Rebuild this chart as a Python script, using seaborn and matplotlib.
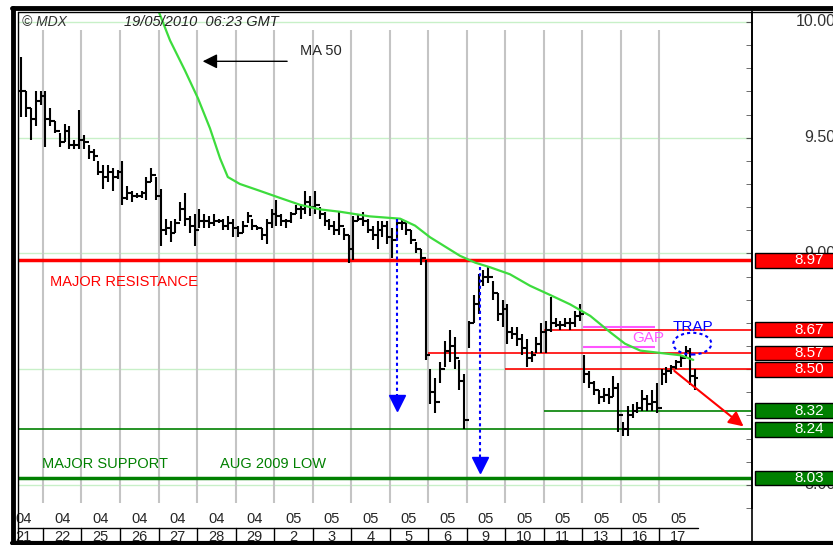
import numpy as np
import pandas as pd
import seaborn as sns
import matplotlib.pyplot as plt
from matplotlib.patches import Rectangle, Ellipse
from matplotlib.lines import Line2D
from matplotlib.transforms import blended_transform_factory

# hourly bars, day by day (21 Apr only partly on screen)
highs = [9.85, 9.70, 9.63, 9.70, 9.70,
         9.70, 9.63, 9.57, 9.52, 9.56, 9.55, 9.49, 9.62,
         9.51, 9.47, 9.45, 9.40, 9.38, 9.38, 9.37, 9.36,
         9.40, 9.29, 9.27, 9.26, 9.27, 9.33, 9.37, 9.33,
         9.28, 9.15, 9.14, 9.15, 9.22, 9.26, 9.16, 9.17,
         9.19, 9.17, 9.16, 9.17, 9.15, 9.15, 9.16, 9.15,
         9.12, 9.14, 9.18, 9.15, 9.12, 9.11, 9.15, 9.19,
         9.23, 9.17, 9.15, 9.18, 9.21, 9.21, 9.27, 9.25,
         9.27, 9.20, 9.18, 9.15, 9.14, 9.18, 9.11, 9.08,
         9.16, 9.17, 9.18, 9.15, 9.12, 9.14, 9.14, 9.14,
         9.11, 9.15, 9.15, 9.13, 9.10, 9.05, 9.02, 8.97,
         8.50, 8.46, 8.53, 8.62, 8.67, 8.64, 8.54, 8.48,
         8.71, 8.82, 8.91, 8.93, 8.94, 8.88, 8.83, 8.80,
         8.78, 8.68, 8.68, 8.65, 8.63, 8.58, 8.64, 8.70,
         8.71, 8.81, 8.72, 8.71, 8.72, 8.72, 8.75, 8.78,
         8.56, 8.49, 8.45, 8.41, 8.42, 8.42, 8.47, 8.44,
         8.27, 8.34, 8.35, 8.36, 8.41, 8.39, 8.41, 8.44,
         8.50, 8.51, 8.52, 8.54, 8.56, 8.60, 8.59, 8.50]
lows = [9.59, 9.59, 9.49, 9.55, 9.64,
        9.46, 9.55, 9.52, 9.46, 9.48, 9.45, 9.45, 9.45,
        9.45, 9.41, 9.40, 9.34, 9.28, 9.31, 9.27, 9.32,
        9.21, 9.23, 9.22, 9.24, 9.24, 9.23, 9.31, 9.23,
        9.03, 9.08, 9.05, 9.09, 9.14, 9.12, 9.09, 9.03,
        9.11, 9.11, 9.11, 9.12, 9.13, 9.10, 9.10, 9.07,
        9.07, 9.09, 9.13, 9.10, 9.10, 9.06, 9.04, 9.11,
        9.12, 9.12, 9.11, 9.13, 9.17, 9.15, 9.17, 9.16,
        9.17, 9.15, 9.12, 9.10, 9.08, 9.08, 9.06, 8.96,
        8.97, 9.14, 9.12, 9.09, 9.06, 9.02, 9.07, 9.04,
        8.98, 9.06, 9.10, 9.08, 9.04, 9.00, 8.95, 8.54,
        8.35, 8.31, 8.44, 8.51, 8.53, 8.50, 8.41, 8.24,
        8.59, 8.70, 8.74, 8.86, 8.87, 8.80, 8.71, 8.68,
        8.61, 8.63, 8.60, 8.56, 8.51, 8.53, 8.57, 8.57,
        8.57, 8.66, 8.68, 8.67, 8.68, 8.67, 8.68, 8.71,
        8.44, 8.42, 8.39, 8.35, 8.36, 8.35, 8.38, 8.23,
        8.21, 8.21, 8.29, 8.31, 8.32, 8.32, 8.32, 8.31,
        8.43, 8.44, 8.48, 8.50, 8.51, 8.55, 8.43, 8.41]
closes = [9.70, 9.63, 9.58, 9.66, 9.68,
          9.58, 9.57, 9.53, 9.48, 9.53, 9.47, 9.47, 9.49,
          9.48, 9.44, 9.42, 9.35, 9.33, 9.35, 9.33, 9.35,
          9.24, 9.26, 9.25, 9.25, 9.26, 9.31, 9.34, 9.25,
          9.10, 9.11, 9.09, 9.13, 9.19, 9.15, 9.12, 9.10,
          9.14, 9.14, 9.13, 9.14, 9.14, 9.12, 9.13, 9.11,
          9.09, 9.12, 9.16, 9.12, 9.11, 9.08, 9.13, 9.17,
          9.16, 9.14, 9.14, 9.17, 9.19, 9.19, 9.22, 9.20,
          9.21, 9.17, 9.14, 9.12, 9.10, 9.12, 9.08, 9.02,
          9.14, 9.15, 9.14, 9.10, 9.08, 9.10, 9.12, 9.07,
          9.06, 9.13, 9.13, 9.10, 9.06, 9.02, 8.98, 8.56,
          8.40, 8.36, 8.50, 8.58, 8.60, 8.55, 8.45, 8.28,
          8.70, 8.78, 8.88, 8.90, 8.90, 8.83, 8.74, 8.76,
          8.66, 8.65, 8.63, 8.59, 8.55, 8.56, 8.61, 8.66,
          8.67, 8.70, 8.69, 8.69, 8.70, 8.70, 8.73, 8.74,
          8.48, 8.44, 8.41, 8.38, 8.39, 8.38, 8.42, 8.30,
          8.24, 8.30, 8.32, 8.33, 8.37, 8.35, 8.36, 8.33,
          8.48, 8.49, 8.51, 8.53, 8.55, 8.58, 8.47, 8.46]

months = ["04"] * 7 + ["05"] * 11
days = ["21", "22", "25", "26", "27", "28", "29", "2", "3", "4", "5", "6",
        "9", "10", "11", "13", "16", "17"]

# MA 50 (bar position, price)
ma_pos = [23.0, 26.4, 29.5, 32.2, 34.7, 36.8, 38.4, 40.9, 45.1, 49.2, 53.4,
          57.6, 61.7, 67.9, 74.2, 77.3, 80.4, 83.5, 86.6, 89.8, 92.9, 97.0,
          101.2, 105.4, 109.5, 113.7, 117.8, 120.9, 124.1, 128.2, 132.4, 135.1]
ma_val = [10.10, 9.92, 9.79, 9.67, 9.54, 9.41, 9.33, 9.30, 9.27, 9.24, 9.21,
          9.19, 9.18, 9.16, 9.15, 9.12, 9.07, 9.03, 8.99, 8.96, 8.94, 8.91,
          8.86, 8.82, 8.78, 8.73, 8.66, 8.61, 8.58, 8.57, 8.56, 8.54]

levels = [8.97, 8.67, 8.57, 8.50, 8.32, 8.24, 8.03]
level_kind = ["res", "res", "res", "res", "sup", "sup", "sup"]
level_from = [None, 104, 80, 96, 104, None, None]
gap_levels = [8.684, 8.594]
axis_labels = [10.0, 9.5, 9.0, 8.0]

RED = "#ff0000"
GREEN = "#008000"
BLUE = "#0000ff"

sns.set_style("white")
plt.rcParams["font.family"] = ["Liberation Sans", "DejaVu Sans"]

per_day = 8
x = np.arange(-5, len(highs) - 5) + 0.5
df = pd.DataFrame({"x": x, "high": highs, "low": lows, "close": closes})
df["open"] = df["close"].shift(1).fillna(df["close"])
ma = pd.DataFrame({"pos": ma_pos, "ma": ma_val})

fig = plt.figure(figsize=(8.33, 5.45), dpi=100)
ax = fig.add_axes([18 / 833, 37 / 545, 734 / 833, 496 / 545])
x0, x1 = -5.19, 147.3
y0, y1 = 7.923, 10.043
ax.set_xlim(x0, x1)
ax.set_ylim(y0, y1)
trans = blended_transform_factory(ax.transAxes, ax.transData)
xtrans = ax.get_xaxis_transform()

for s in ["left", "top", "bottom"]:
    ax.spines[s].set_visible(False)
ax.spines["right"].set_color("black")
ax.spines["right"].set_linewidth(1.2)
ax.set_xticks([])
ax.yaxis.set_ticks_position("right")
ax.set_yticks(np.arange(8.0, 10.01, 0.5))
ax.set_yticks(np.arange(7.9, 10.05, 0.1), minor=True)
ax.tick_params(axis="y", which="both", direction="in", length=4, color="#555555",
               labelright=False)

# grid
for v in np.arange(8.0, 10.01, 0.5):
    ax.axhline(v, color="#c8f0c8", lw=1, zorder=0)
bounds = np.arange(0, 16 * per_day + 1, per_day)
ax.vlines(bounds, y0, 9.966, color="#c4c4c4", lw=1.5, zorder=0)

# support / resistance
for v, k, f in zip(levels, level_kind, level_from):
    c = RED if k == "res" else GREEN
    lw = 2.5 if f is None and v in (8.97, 8.03) else 1.2
    ax.hlines(v, x0 if f is None else f, x1, color=c, lw=lw, zorder=2)
ax.hlines(gap_levels, 112.2, 127.2, color="#ff55ff", lw=1.5, zorder=2)

# bars
ax.vlines(df["x"], df["low"], df["high"], color="black", lw=1.5, zorder=3)
ax.hlines(df["open"], df["x"] - 0.5, df["x"], color="black", lw=1.5, zorder=3)
ax.hlines(df["close"], df["x"], df["x"] + 0.5, color="black", lw=1.5, zorder=3)

sns.lineplot(data=ma, x="pos", y="ma", color="#3ddc3d", lw=1.6, ax=ax, zorder=4)
ax.set_xlabel("")
ax.set_ylabel("")

# right labels
for v in axis_labels:
    ax.text(1.114, v, f"{v:.2f}", transform=trans, ha="right", va="center",
            fontsize=11.5, color="#333333", clip_on=False, zorder=5)
for v, k in zip(levels, level_kind):
    c = RED if k == "res" else GREEN
    ax.add_patch(Rectangle((1.004, v - 0.032), 0.15, 0.064, transform=trans,
                           facecolor=c, edgecolor="black", lw=1, clip_on=False, zorder=6))
    ax.text(1.058, v, f"{v:.2f}", transform=trans, ha="left", va="center",
            fontsize=11, color="white", clip_on=False, zorder=7)

# date rows
for i, (m, d) in enumerate(zip(months, days)):
    c = (i - 1) * per_day + per_day / 2
    ax.text(c, -0.022, m, transform=xtrans, ha="center", va="center",
            fontsize=10.5, clip_on=False)
    ax.text(c, -0.059, d, transform=xtrans, ha="center", va="center",
            fontsize=10.5, clip_on=False)
ax.plot([x0, 17 * per_day], [-0.0403, -0.0403], transform=xtrans, color="black",
        lw=1, clip_on=False)
for b in bounds:
    ax.plot([b, b], [-0.0403, -0.08], transform=xtrans, color="black", lw=1, clip_on=False)

# annotations
ax.text(-4.4, 10.0, "\u00a9 MDX", fontsize=10, style="italic", color="#333333",
        va="center", zorder=5)
ax.text(16.8, 10.0, "19/05/2010  06:23 GMT", fontsize=10.5, style="italic",
        color="#222222", va="center", zorder=5)
ax.annotate("", xy=(32.6, 9.83), xytext=(51.3, 9.83),
            arrowprops=dict(arrowstyle="-|>", color="black", lw=1, mutation_scale=22))
ax.text(53.4, 9.875, "MA 50", fontsize=10.5, va="center")
ax.text(1.45, 8.876, "MAJOR RESISTANCE", color=RED, fontsize=10.5, va="center")
ax.text(-0.2, 8.09, "MAJOR SUPPORT", color=GREEN, fontsize=10.5, va="center")
ax.text(36.8, 8.09, "AUG 2009 LOW", color=GREEN, fontsize=10.5, va="center")
ax.text(122.4, 8.635, "GAP", color="#ff55ff", fontsize=11, va="center", zorder=5)
ax.text(130.9, 8.68, "TRAP", color=BLUE, fontsize=11, va="center", zorder=5)
ax.add_patch(Ellipse((134.9, 8.61), 7.9, 0.094, fill=False, edgecolor=BLUE,
                     lw=1.5, ls=(0, (1.5, 1.5)), zorder=5))
ax.annotate("", xy=(146.0, 8.245), xytext=(130.7, 8.50),
            arrowprops=dict(arrowstyle="-|>", color=RED, lw=1.5, mutation_scale=22),
            zorder=5)
for xa, ytop, ytip in [(73.6, 9.15, 8.355), (90.8, 8.94, 8.085)]:
    ax.plot([xa, xa], [ytop, ytip], color=BLUE, lw=1.5, ls=(0, (1.5, 1.5)), zorder=5)
    ax.plot(xa, ytip, marker="v", ms=11, color=BLUE, zorder=5)

# frame
fig.add_artist(Line2D([12 / 833, 1], [1 - 8 / 545] * 2, color="black", lw=3.5))
fig.add_artist(Line2D([18 / 833, 1], [1 - 12 / 545] * 2, color="black", lw=1))
fig.add_artist(Line2D([13 / 833] * 2, [0, 1 - 8 / 545], color="black", lw=3.5))
fig.add_artist(Line2D([17.5 / 833] * 2, [0, 1 - 12 / 545], color="black", lw=1))
fig.add_artist(Line2D([12 / 833, 1], [2 / 545] * 2, color="black", lw=3))
fig.add_artist(Line2D([752 / 833] * 2, [0, 1 - 12 / 545], color="black", lw=1.2))

fig.savefig("out.png", dpi=100)
